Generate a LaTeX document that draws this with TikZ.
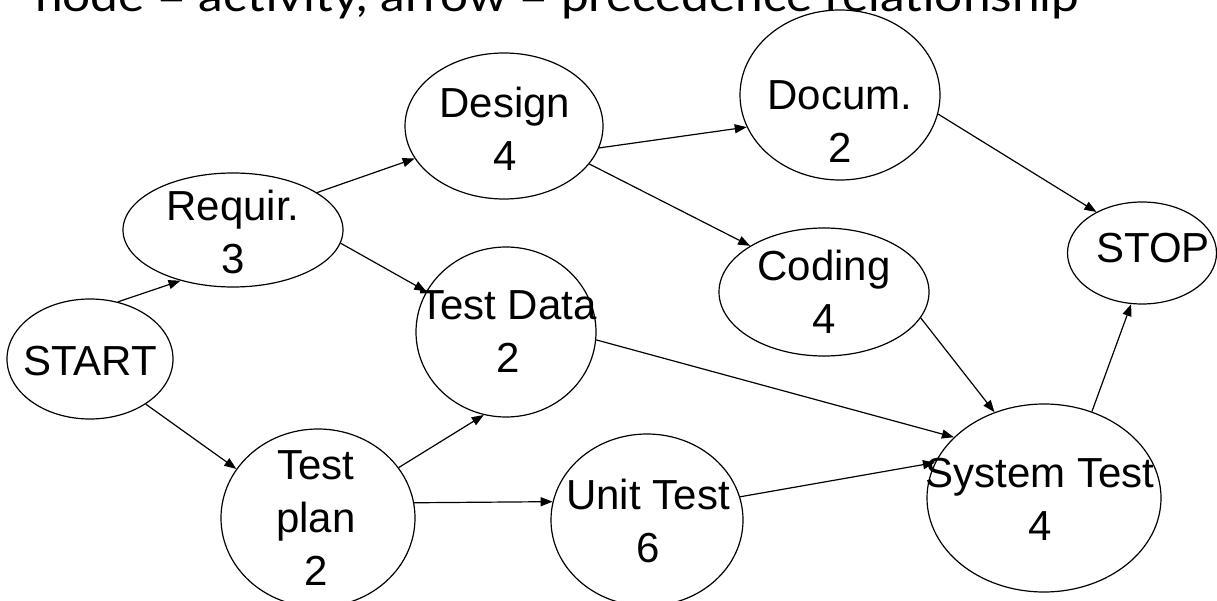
\documentclass[tikz,border=0pt]{standalone}
\usepackage{fontspec}
\setmainfont{Liberation Sans}
\newfontfamily\headfont{Lato}
\usetikzlibrary{arrows.meta,shapes.geometric}
\begin{document}
\begin{tikzpicture}[x=1pt,y=-1pt,
  act/.style={draw, ellipse, line width=1.2pt, inner sep=0pt},
  lbl/.style={align=center, inner sep=0pt, font=\fontsize{42}{53}\selectfont},
  prec/.style={line width=1.2pt, -{Triangle[length=12pt,width=9pt]}}]
\useasboundingbox (0,0) rectangle (1217,601);

% heading line (runs off the top edge)
\node[anchor=base west, inner sep=0pt] (head) at (35,12)
  {\headfont\fontsize{44}{50}\selectfont\resizebox{1044pt}{\height}{node = activity, arrow = precedence relationship}};

% activities
\node[act, minimum width=166pt, minimum height=120pt] (start) at (90,359) {};
\node[act, minimum width=220pt, minimum height=114pt] (req)   at (233,230) {};
\node[act, minimum width=198pt, minimum height=146pt] (des)   at (504,126) {};
\node[act, minimum width=200pt, minimum height=170pt] (doc)   at (840,95) {};
\node[act, minimum width=210pt, minimum height=128pt] (cod)   at (824,292) {};
\node[act, minimum width=149pt, minimum height=102pt] (stop)  at (1142,253) {};
\node[act, minimum width=180pt, minimum height=170pt] (tdat)  at (506,332) {};
\node[act, minimum width=194pt, minimum height=178pt] (tpl)   at (318,518) {};
\node[act, minimum width=192pt, minimum height=172pt] (unit)  at (647,520) {};
\node[act, minimum width=234pt, minimum height=188pt] (sys)   at (1044,498) {};

% activity labels: name and duration
\node[lbl] (start-t) at (90,361)    {START};
\node[lbl] (req-t)   at (233,231.5) {Requir.\\3};
\node[lbl] (des-t)   at (505,128.5) {Design\\4};
\node[lbl] (doc-t)   at (840,121.5) {Docum.\\2};
\node[lbl] (cod-t)   at (824,291.5) {Coding\\4};
\node[lbl] (stop-t)  at (1153,248)  {STOP};
\node[lbl] (tdat-t)  at (508,331.5) {Test Data\\2};
\node[lbl] (tpl-t)   at (316,518)   {Test\\plan\\2};
\node[lbl] (unit-t)  at (648,520.5) {Unit Test\\6};
\node[lbl] (sys-t)   at (1040,499.5) {System Test\\4};

% precedence relationships
\draw[prec] (start.64)  -- (req.224.5);
\draw[prec] (start.321) -- (tpl.149.5);
\draw[prec] (req.24.5)  -- (des.200.3);
\draw[prec] (req.353.9) -- (tdat.153.7);
\draw[prec] (des.347.6) -- (doc.199.3);
\draw[prec] (des.336)   -- (cod.148.7);
\draw[prec] (doc.349.4) -- (stop.138.1);
\draw[prec] (cod.345)   -- (sys.120.2);
\draw[prec] (tdat.355.6) -- (sys.146.2);
\draw[prec] (tpl.32)    -- (tdat.255.5);
\draw[prec] (tpl.9.5)   -- (unit.169.5);
\draw[prec] (unit.14.7) -- (sys.162);
\draw[prec] (sys.61.7)  -- (stop.258.3);
\end{tikzpicture}
\end{document}
